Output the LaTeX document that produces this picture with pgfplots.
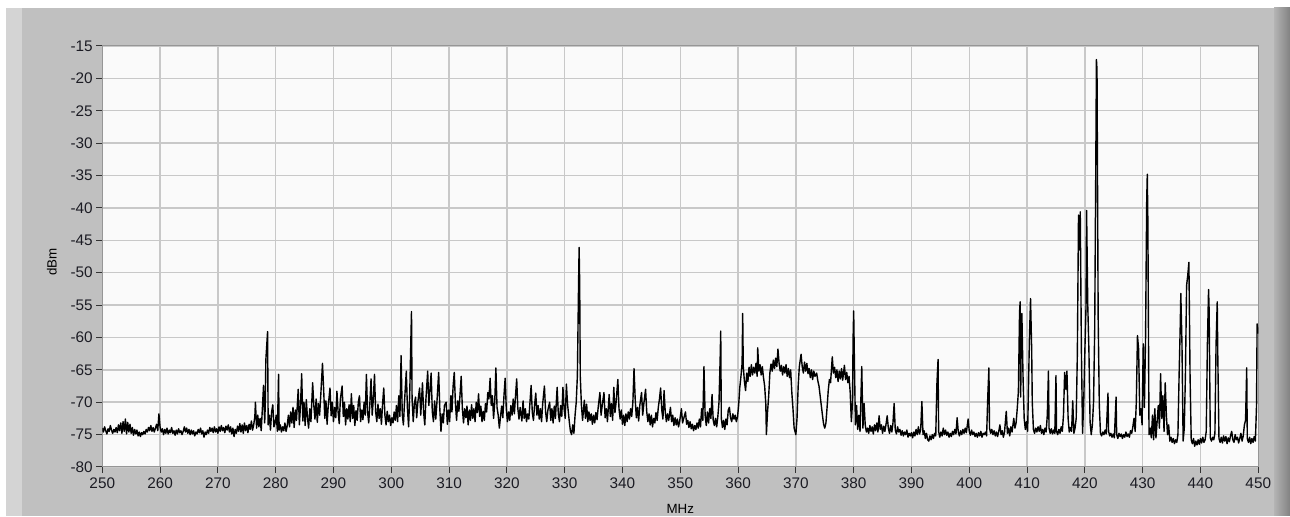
\documentclass[border=0pt]{standalone}
\usepackage{pgfplots}
\pgfplotsset{compat=1.18}
\usepackage{fontspec}
\setmainfont{Liberation Sans}
\definecolor{panel}{RGB}{192,192,192}
\definecolor{strip}{RGB}{212,212,212}
\definecolor{plotbg}{RGB}{250,250,250}
\definecolor{gridc}{RGB}{200,200,200}
\definecolor{framec}{RGB}{150,150,150}
\definecolor{labc}{RGB}{28,28,36}
\begin{document}
\begin{tikzpicture}
% 1 px of the reference = 0.75pt
\useasboundingbox (0,0) rectangle (967.5pt,387.75pt);
\fill[white] (0,0) rectangle (967.5pt,387.75pt);
\fill[panel] (4.5pt,1pt) rectangle (967.5pt,381.75pt);
\fill[strip] (4.5pt,1pt) rectangle (16.5pt,381.75pt);
\shade[left color={rgb,255:red,180;green,180;blue,180},right color={rgb,255:red,130;green,130;blue,130}]
  (955.5pt,1pt) rectangle (967.5pt,381.75pt);
\begin{axis}[
	at={(76.7pt,37.5pt)}, anchor=south west,
	scale only axis,
	width=867pt, height=315.75pt,
	xmin=250, xmax=450, ymin=-80, ymax=-15,
	xtick={250,260,...,450},
	ytick={-80,-75,...,-15},
	/pgf/number format/assume math mode=true,
	/pgf/number format/1000 sep={},
	tick label style={font=\fontsize{11.5}{13}\selectfont, text=labc},
	label style={font=\fontsize{11}{13}\selectfont, text=labc},
	yticklabel style={inner sep=2.5pt},
	tick align=outside, tick pos=left,
	major tick length=4.5pt,
	every tick/.style={black!80, line width=0.75pt},
	grid=major,
	grid style={gridc, line width=1.1pt},
	axis line style={framec, line width=0.75pt},
	axis background/.style={fill=plotbg},
	xlabel={MHz}, ylabel={dBm},
	every axis x label/.style={at={(axis description cs:0.5,-0.1)}, anchor=center},
	every axis y label/.style={at={(axis description cs:-0.0435,0.487)}, rotate=90, anchor=center},
]
\addplot[black, line width=1.05pt, line join=round, mark=none] coordinates {
(250.0,-74.0) (250.2,-74.6) (250.4,-73.8) (250.6,-74.4) (250.8,-74.9) (251.0,-74.1) (251.2,-74.5) (251.4,-73.6)
(251.6,-74.3) (251.8,-74.8) (252.0,-74.2) (252.2,-74.6) (252.4,-73.9) (252.6,-74.7) (252.8,-73.5) (253.0,-74.4)
(253.2,-73.2) (253.4,-74.8) (253.6,-73.0) (253.8,-74.5) (254.0,-72.6) (254.2,-74.9) (254.4,-73.1) (254.6,-74.6)
(254.8,-73.4) (255.0,-74.8) (255.2,-73.9) (255.4,-75.1) (255.6,-74.2) (255.8,-74.9) (256.0,-74.3) (256.2,-75.2)
(256.4,-74.6) (256.6,-75.3) (256.8,-74.7) (257.0,-75.0) (257.2,-74.5) (257.4,-74.9) (257.6,-74.2) (257.8,-74.6)
(258.0,-73.9) (258.2,-74.4) (258.4,-73.6) (258.6,-74.5) (258.8,-73.9) (259.0,-74.6) (259.2,-74.0) (259.4,-73.4)
(259.6,-74.4) (259.8,-71.8) (260.0,-73.8) (260.2,-74.6) (260.4,-74.1) (260.6,-75.0) (260.8,-74.2) (261.0,-74.8)
(261.2,-74.0) (261.4,-74.9) (261.6,-74.3) (261.8,-74.7) (262.0,-73.9) (262.2,-74.8) (262.4,-74.4) (262.6,-75.1)
(262.8,-74.3) (263.0,-74.9) (263.2,-74.1) (263.4,-74.7) (263.6,-74.4) (263.8,-75.0) (264.0,-74.5) (264.2,-73.8)
(264.4,-74.6) (264.6,-74.0) (264.8,-74.8) (265.0,-74.2) (265.2,-75.0) (265.4,-74.3) (265.6,-74.9) (265.8,-74.4)
(266.0,-75.2) (266.2,-74.6) (266.4,-74.9) (266.6,-74.2) (266.8,-74.7) (267.0,-74.0) (267.2,-74.9) (267.4,-74.4)
(267.6,-75.4) (267.8,-74.6) (268.0,-75.0) (268.2,-74.3) (268.4,-74.8) (268.6,-73.9) (268.8,-74.5) (269.0,-74.0)
(269.2,-74.7) (269.4,-73.8) (269.6,-74.6) (269.8,-74.1) (270.0,-74.8) (270.2,-73.8) (270.4,-74.5) (270.6,-73.6)
(270.8,-74.4) (271.0,-73.9) (271.2,-74.7) (271.4,-73.7) (271.6,-74.3) (271.8,-73.5) (272.0,-74.6) (272.2,-73.8)
(272.4,-74.9) (272.6,-74.0) (272.8,-75.3) (273.0,-74.2) (273.2,-74.8) (273.4,-73.7) (273.6,-74.5) (273.8,-73.3)
(274.0,-74.6) (274.2,-73.5) (274.4,-74.8) (274.6,-73.2) (274.8,-74.4) (275.0,-73.6) (275.2,-74.7) (275.4,-73.4)
(275.6,-74.2) (275.8,-72.9) (276.0,-74.3) (276.2,-73.5) (276.4,-72.2) (276.5,-70.0) (276.7,-74.0) (276.9,-72.0)
(277.1,-73.8) (277.3,-72.5) (277.5,-74.4) (277.7,-71.0) (277.9,-67.4) (278.1,-73.2) (278.2,-70.5) (278.3,-63.5)
(278.6,-59.1) (278.7,-73.5) (278.9,-72.0) (279.1,-74.3) (279.3,-71.5) (279.5,-70.4) (279.7,-73.8) (279.9,-73.2)
(280.1,-72.0) (280.3,-74.5) (280.5,-65.7) (280.6,-74.3) (280.8,-73.5) (281.0,-74.6) (281.2,-73.8) (281.4,-74.4)
(281.6,-73.2) (281.8,-74.5) (282.0,-73.6) (282.2,-72.0) (282.4,-73.8) (282.6,-71.5) (282.8,-73.2) (283.0,-70.8)
(283.2,-73.9) (283.4,-71.2) (283.6,-72.8) (283.9,-68.0) (284.1,-73.5) (284.3,-70.4) (284.5,-65.6) (284.7,-72.9)
(284.9,-70.0) (285.1,-73.6) (285.3,-69.6) (285.5,-72.4) (285.7,-74.0) (285.9,-71.0) (286.1,-73.0) (286.4,-67.0)
(286.6,-70.5) (286.8,-72.6) (287.0,-69.5) (287.2,-73.1) (287.4,-70.2) (287.6,-72.0) (287.8,-69.0) (288.1,-64.0)
(288.3,-68.0) (288.5,-72.5) (288.7,-69.8) (288.9,-73.4) (289.1,-70.5) (289.4,-67.8) (289.6,-72.1) (289.8,-70.0)
(290.0,-73.0) (290.2,-70.8) (290.4,-72.4) (290.6,-68.3) (290.8,-71.5) (291.0,-73.3) (291.2,-69.5) (291.5,-67.5)
(291.7,-72.2) (291.9,-70.0) (292.1,-73.5) (292.3,-71.0) (292.5,-72.6) (292.7,-70.4) (292.9,-73.0) (293.1,-68.7)
(293.3,-72.5) (293.5,-70.5) (293.7,-73.6) (293.9,-71.3) (294.1,-72.8) (294.3,-70.0) (294.5,-69.0) (294.7,-73.0)
(294.9,-71.2) (295.1,-72.7) (295.3,-70.0) (295.5,-72.0) (295.7,-65.7) (295.9,-71.5) (296.1,-73.2) (296.3,-70.2)
(296.5,-66.4) (296.7,-72.0) (296.9,-69.5) (297.1,-65.7) (297.3,-71.5) (297.5,-73.0) (297.7,-70.3) (297.9,-72.5)
(298.1,-71.0) (298.3,-73.4) (298.5,-70.2) (298.7,-67.8) (298.9,-72.0) (299.1,-73.5) (299.3,-71.4) (299.5,-73.0)
(299.7,-72.0) (299.9,-73.6) (300.1,-72.4) (300.3,-73.2) (300.5,-71.5) (300.7,-72.8) (300.9,-70.5) (301.1,-73.0)
(301.3,-69.0) (301.5,-72.2) (301.7,-62.8) (301.9,-71.8) (302.1,-73.5) (302.3,-69.8) (302.6,-65.2) (302.8,-71.0)
(303.0,-73.8) (303.2,-68.5) (303.4,-60.0) (303.5,-56.0) (303.6,-69.5) (303.8,-73.0) (304.0,-70.2) (304.2,-69.2)
(304.4,-72.4) (304.6,-70.0) (304.9,-67.8) (305.1,-72.0) (305.4,-67.0) (305.6,-71.6) (305.8,-73.5) (306.0,-69.5)
(306.3,-65.2) (306.5,-70.5) (306.7,-68.0) (306.9,-65.5) (307.1,-71.5) (307.3,-73.0) (307.5,-69.8) (307.7,-72.6)
(307.9,-70.0) (308.2,-65.4) (308.4,-71.0) (308.6,-74.5) (308.8,-71.8) (309.0,-73.2) (309.2,-70.5) (309.5,-70.0)
(309.7,-73.4) (309.9,-71.2) (310.1,-73.0) (310.3,-69.0) (310.5,-71.5) (310.7,-67.5) (310.9,-65.4) (311.1,-70.2)
(311.3,-72.8) (311.5,-69.8) (311.7,-71.4) (311.9,-68.8) (312.1,-66.0) (312.3,-71.0) (312.5,-73.2) (312.7,-71.0)
(312.9,-72.4) (313.1,-70.6) (313.3,-73.5) (313.5,-71.2) (313.7,-72.8) (313.9,-70.4) (314.1,-72.5) (314.3,-71.0)
(314.5,-73.0) (314.7,-70.0) (314.9,-71.6) (315.1,-68.7) (315.3,-72.2) (315.5,-70.6) (315.7,-73.0) (315.9,-71.4)
(316.1,-72.8) (316.3,-70.2) (316.5,-71.5) (316.7,-68.5) (316.9,-69.5) (317.1,-66.3) (317.3,-70.5) (317.5,-69.0)
(317.7,-72.5) (317.9,-70.0) (318.1,-64.7) (318.3,-70.8) (318.5,-72.0) (318.7,-74.0) (318.9,-72.2) (319.1,-70.6)
(319.3,-72.4) (319.5,-69.0) (319.7,-66.3) (319.9,-71.0) (320.1,-73.0) (320.3,-71.5) (320.5,-72.8) (320.7,-70.5)
(320.9,-72.0) (321.1,-69.5) (321.3,-71.8) (321.5,-69.0) (321.7,-66.4) (321.9,-71.0) (322.1,-72.6) (322.3,-70.8)
(322.6,-72.9) (322.8,-69.8) (323.0,-72.5) (323.2,-71.0) (323.4,-73.0) (323.6,-71.8) (323.8,-72.6) (324.0,-70.0)
(324.2,-67.4) (324.4,-71.6) (324.6,-72.8) (324.8,-70.4) (325.0,-68.6) (325.2,-72.0) (325.4,-70.5) (325.6,-72.6)
(325.8,-71.0) (326.0,-73.0) (326.2,-70.2) (326.5,-67.5) (326.7,-71.5) (326.9,-73.0) (327.1,-71.2) (327.4,-70.0)
(327.6,-72.8) (327.8,-71.0) (328.0,-73.2) (328.2,-70.6) (328.4,-72.5) (328.7,-67.7) (328.9,-71.8) (329.1,-73.0)
(329.3,-70.5) (329.5,-72.2) (329.7,-67.7) (329.9,-71.0) (330.1,-72.5) (330.3,-67.2) (330.5,-70.3) (330.8,-73.0)
(331.0,-74.5) (331.2,-75.0) (331.4,-73.5) (331.6,-74.8) (331.8,-72.0) (332.0,-70.0) (332.2,-65.9) (332.4,-52.0)
(332.5,-46.1) (332.6,-51.7) (332.7,-66.0) (332.9,-70.5) (333.1,-72.8) (333.4,-69.7) (333.6,-72.5) (333.8,-70.3)
(334.0,-73.0) (334.2,-71.5) (334.4,-72.8) (334.6,-71.8) (334.8,-73.4) (335.0,-72.0) (335.2,-73.2) (335.4,-71.6)
(335.6,-72.7) (335.8,-70.8) (336.1,-68.5) (336.3,-72.0) (336.5,-70.5) (336.8,-68.5) (337.0,-72.4) (337.2,-71.0)
(337.4,-73.0) (337.7,-68.8) (337.9,-72.2) (338.1,-70.2) (338.3,-72.8) (338.5,-67.7) (338.7,-71.6) (338.9,-70.0)
(339.2,-66.5) (339.4,-71.0) (339.6,-72.6) (339.8,-71.2) (340.0,-73.4) (340.2,-72.0) (340.4,-73.6) (340.6,-71.8)
(340.8,-73.0) (341.0,-71.5) (341.2,-72.6) (341.4,-71.0) (341.6,-72.2) (341.8,-70.0) (342.0,-64.8) (342.2,-69.5)
(342.4,-72.4) (342.6,-70.8) (342.8,-72.9) (343.0,-70.5) (343.3,-68.5) (343.5,-72.0) (343.7,-70.2) (344.0,-68.0)
(344.2,-71.5) (344.4,-73.0) (344.6,-71.8) (344.8,-73.5) (345.0,-72.0) (345.2,-73.8) (345.4,-72.5) (345.6,-73.2)
(345.8,-71.6) (346.0,-72.8) (346.2,-70.8) (346.4,-69.5) (346.6,-67.8) (346.8,-71.2) (347.0,-72.6) (347.2,-68.2)
(347.4,-71.5) (347.6,-73.0) (347.8,-71.8) (348.0,-72.8) (348.3,-70.8) (348.5,-73.0) (348.7,-72.0) (348.9,-73.6)
(349.1,-72.4) (349.3,-73.5) (349.5,-72.6) (349.7,-73.8) (349.9,-72.9) (350.2,-71.0) (350.4,-73.2) (350.6,-72.5)
(350.9,-71.5) (351.1,-73.4) (351.3,-72.8) (351.5,-73.9) (351.7,-73.0) (351.9,-74.1) (352.1,-73.4) (352.3,-74.4)
(352.5,-73.6) (352.7,-74.2) (352.9,-73.2) (353.1,-74.0) (353.3,-72.6) (353.5,-73.8) (353.7,-71.0) (353.9,-72.8)
(354.1,-64.5) (354.3,-72.0) (354.5,-73.6) (354.7,-71.5) (354.9,-73.2) (355.1,-71.0) (355.3,-72.5) (355.5,-68.8)
(355.7,-72.8) (355.9,-73.6) (356.1,-72.5) (356.3,-73.8) (356.5,-72.2) (356.7,-70.0) (356.9,-63.3) (357.0,-59.0)
(357.1,-72.5) (357.3,-73.9) (357.5,-72.8) (357.7,-74.2) (357.9,-72.6) (358.1,-73.5) (358.3,-71.2) (358.5,-70.8)
(358.7,-72.4) (358.9,-73.0) (359.1,-71.8) (359.3,-72.6) (359.5,-72.0) (359.7,-73.0) (359.9,-72.3) (360.1,-70.5)
(360.3,-67.7) (360.5,-66.0) (360.7,-64.0) (360.8,-56.3) (360.9,-64.5) (361.1,-66.8) (361.3,-68.2) (361.5,-65.5)
(361.7,-66.8) (361.9,-64.6) (362.1,-66.0) (362.3,-64.2) (362.5,-65.8) (362.7,-64.6) (362.9,-65.5) (363.1,-64.0)
(363.3,-66.0) (363.4,-61.6) (363.6,-65.2) (363.8,-64.2) (364.0,-65.8) (364.2,-64.5) (364.4,-66.2) (364.6,-67.5)
(364.8,-70.3) (364.9,-75.0) (365.1,-71.5) (365.3,-69.0) (365.5,-65.5) (365.7,-64.1) (365.9,-65.2) (366.1,-63.5)
(366.3,-64.8) (366.5,-63.2) (366.7,-64.5) (366.9,-61.8) (367.1,-64.0) (367.3,-65.2) (367.5,-64.3) (367.7,-65.8)
(367.9,-64.5) (368.1,-65.5) (368.3,-64.2) (368.5,-66.0) (368.7,-64.8) (368.9,-66.2) (369.1,-65.0) (369.3,-68.5)
(369.5,-71.0) (369.7,-74.0) (370.0,-75.0) (370.2,-72.5) (370.4,-67.5) (370.6,-64.5) (370.9,-62.6) (371.1,-64.5)
(371.3,-65.5) (371.5,-63.8) (371.7,-65.2) (371.9,-64.0) (372.1,-65.6) (372.3,-64.8) (372.5,-66.2) (372.7,-65.0)
(372.9,-66.5) (373.1,-65.2) (373.3,-66.0) (373.6,-65.5) (373.8,-66.7) (374.0,-67.5) (374.2,-69.0) (374.4,-70.5)
(374.6,-72.0) (374.8,-73.4) (375.0,-74.0) (375.2,-73.2) (375.4,-70.8) (375.6,-68.2) (375.8,-66.5) (376.0,-67.0)
(376.3,-63.0) (376.5,-65.5) (376.7,-64.6) (376.9,-66.2) (377.1,-65.0) (377.3,-66.8) (377.5,-65.2) (377.7,-66.4)
(377.9,-64.8) (378.1,-66.6) (378.4,-64.3) (378.6,-66.5) (378.8,-65.4) (379.0,-67.0) (379.2,-66.0) (379.4,-68.5)
(379.6,-73.0) (379.8,-70.0) (379.9,-60.2) (380.0,-55.9) (380.1,-62.0) (380.3,-73.5) (380.5,-70.5) (380.7,-74.2)
(380.9,-72.0) (381.1,-74.5) (381.4,-64.5) (381.6,-74.0) (381.8,-70.2) (382.0,-73.5) (382.2,-74.6) (382.4,-74.0)
(382.6,-74.8) (382.8,-73.6) (383.0,-74.5) (383.2,-73.8) (383.4,-74.9) (383.6,-73.5) (383.8,-74.4) (384.0,-73.2)
(384.2,-74.6) (384.4,-72.1) (384.6,-74.2) (384.8,-73.5) (385.0,-74.8) (385.2,-73.7) (385.4,-74.5) (385.6,-73.4)
(385.8,-72.1) (386.0,-74.0) (386.2,-74.8) (386.4,-73.6) (386.6,-74.6) (386.8,-73.2) (387.0,-70.2) (387.2,-74.3)
(387.4,-74.9) (387.6,-73.8) (387.8,-74.6) (388.0,-74.2) (388.2,-75.1) (388.4,-74.4) (388.6,-75.2) (388.8,-74.6)
(389.0,-75.0) (389.2,-74.3) (389.4,-75.4) (389.6,-74.8) (389.8,-75.2) (390.0,-74.7) (390.2,-75.5) (390.4,-74.6)
(390.6,-75.2) (390.8,-74.2) (391.0,-75.0) (391.2,-73.8) (391.4,-74.9) (391.6,-74.2) (391.8,-69.9) (392.0,-75.0)
(392.2,-74.4) (392.4,-75.6) (392.6,-74.8) (392.8,-75.8) (393.0,-76.0) (393.2,-75.2) (393.4,-75.8) (393.6,-75.0)
(393.8,-75.6) (394.0,-74.8) (394.2,-75.2) (394.4,-67.2) (394.6,-63.4) (394.7,-74.5) (394.9,-75.4) (395.1,-74.6)
(395.3,-75.2) (395.5,-74.0) (395.7,-75.0) (395.9,-74.3) (396.1,-75.1) (396.3,-74.6) (396.5,-75.4) (396.7,-74.8)
(396.9,-75.3) (397.1,-74.5) (397.3,-75.0) (397.5,-74.2) (397.7,-74.9) (397.9,-72.4) (398.1,-74.6) (398.3,-75.2)
(398.5,-74.4) (398.7,-75.0) (398.9,-74.2) (399.1,-74.8) (399.3,-74.0) (399.5,-74.7) (399.8,-72.6) (400.0,-74.5)
(400.2,-75.1) (400.4,-74.3) (400.6,-75.0) (400.8,-74.6) (401.0,-75.3) (401.2,-74.8) (401.4,-75.4) (401.6,-74.7)
(401.8,-75.2) (402.0,-74.5) (402.2,-75.4) (402.4,-74.8) (402.6,-75.0) (402.8,-74.6) (403.0,-75.2) (403.2,-69.2)
(403.4,-64.7) (403.5,-74.0) (403.7,-74.8) (403.9,-74.2) (404.1,-75.0) (404.3,-74.4) (404.5,-75.2) (404.7,-74.6)
(404.9,-75.3) (405.1,-74.5) (405.3,-73.5) (405.5,-75.0) (405.7,-74.4) (405.9,-75.4) (406.1,-74.6) (406.4,-71.4)
(406.6,-74.8) (406.8,-74.0) (407.0,-75.2) (407.2,-73.8) (407.4,-74.6) (407.7,-72.5) (407.9,-74.0) (408.1,-73.2)
(408.3,-71.0) (408.5,-68.3) (408.7,-56.1) (408.8,-54.5) (408.9,-69.2) (409.0,-57.0) (409.1,-56.3) (409.3,-66.0)
(409.5,-72.5) (409.7,-74.2) (409.9,-73.0) (410.1,-74.5) (410.4,-60.5) (410.6,-54.0) (410.8,-62.0) (410.9,-70.0)
(411.1,-74.2) (411.3,-74.8) (411.5,-74.0) (411.7,-74.6) (411.9,-73.8) (412.1,-74.5) (412.3,-73.6) (412.5,-74.8)
(412.7,-74.2) (412.9,-75.0) (413.1,-74.0) (413.3,-74.6) (413.5,-72.0) (413.7,-65.2) (413.8,-74.0) (414.0,-74.8)
(414.2,-74.1) (414.4,-74.9) (414.6,-74.3) (414.8,-74.8) (415.0,-65.9) (415.1,-74.5) (415.3,-75.0) (415.5,-74.2)
(415.7,-74.8) (415.9,-73.8) (416.1,-74.5) (416.3,-72.0) (416.5,-65.4) (416.7,-68.0) (416.9,-65.2) (417.1,-72.5)
(417.3,-74.6) (417.5,-73.9) (417.7,-74.5) (417.9,-69.8) (418.1,-74.8) (418.3,-74.0) (418.5,-72.5) (418.7,-62.5)
(418.9,-41.1) (419.1,-46.5) (419.2,-40.6) (419.4,-62.0) (419.6,-74.8) (419.8,-70.0) (420.0,-62.0) (420.2,-55.3)
(420.3,-40.4) (420.5,-55.0) (420.7,-62.0) (420.9,-73.0) (421.1,-75.0) (421.3,-73.5) (421.5,-70.0) (421.7,-58.9)
(421.9,-32.1) (422.0,-17.1) (422.1,-18.7) (422.3,-56.9) (422.5,-70.5) (422.7,-74.8) (422.9,-75.2) (423.1,-74.6)
(423.3,-75.0) (423.5,-74.3) (423.7,-74.9) (424.0,-68.6) (424.1,-74.5) (424.3,-75.2) (424.5,-74.8) (424.7,-75.4)
(424.9,-74.9) (425.1,-75.5) (425.4,-69.2) (425.5,-75.0) (425.7,-75.6) (425.9,-74.8) (426.1,-75.3) (426.3,-74.9)
(426.5,-75.6) (426.7,-75.0) (426.9,-75.4) (427.1,-74.6) (427.3,-75.3) (427.5,-74.9) (427.7,-75.4) (427.9,-74.4)
(428.1,-74.8) (428.3,-73.8) (428.5,-72.5) (428.7,-74.5) (428.9,-70.0) (429.1,-59.7) (429.3,-61.8) (429.5,-72.0)
(429.7,-71.0) (429.9,-73.5) (430.1,-61.0) (430.3,-70.8) (430.5,-60.0) (430.7,-38.7) (430.8,-34.8) (430.9,-42.2)
(431.1,-75.0) (431.3,-74.0) (431.5,-75.5) (431.7,-72.0) (431.9,-75.8) (432.1,-71.0) (432.3,-75.5) (432.5,-73.0)
(432.7,-70.5) (432.9,-74.0) (433.1,-65.6) (433.3,-72.5) (433.5,-69.0) (433.7,-74.5) (433.9,-67.0) (434.1,-72.0)
(434.3,-75.0) (434.5,-73.5) (434.7,-76.0) (434.9,-75.4) (435.1,-76.2) (435.3,-75.6) (435.5,-76.4) (435.7,-75.8)
(435.9,-76.2) (436.1,-75.0) (436.3,-66.0) (436.5,-58.2) (436.6,-53.2) (436.8,-61.0) (437.0,-76.0) (437.2,-74.0)
(437.4,-65.6) (437.6,-52.0) (437.8,-50.4) (438.0,-48.4) (438.2,-66.0) (438.4,-75.8) (438.6,-76.4) (438.8,-75.6)
(439.0,-76.8) (439.2,-76.0) (439.4,-76.6) (439.6,-75.8) (439.8,-76.5) (440.0,-75.6) (440.2,-76.3) (440.4,-75.4)
(440.6,-76.2) (440.8,-75.8) (441.0,-74.5) (441.2,-61.0) (441.4,-52.6) (441.5,-55.8) (441.7,-75.5) (441.9,-76.0)
(442.1,-75.4) (442.3,-75.8) (442.5,-74.8) (442.7,-61.0) (442.9,-54.5) (443.0,-63.0) (443.2,-75.6) (443.4,-76.2)
(443.6,-75.4) (443.8,-76.3) (444.0,-75.2) (444.2,-76.0) (444.4,-75.3) (444.6,-76.4) (444.8,-75.5) (445.0,-76.1)
(445.2,-75.2) (445.4,-74.5) (445.6,-75.8) (445.8,-76.2) (446.0,-75.0) (446.2,-75.8) (446.4,-75.4) (446.6,-76.3)
(446.8,-75.6) (447.0,-74.8) (447.2,-76.0) (447.4,-75.2) (447.6,-73.5) (447.8,-72.8) (448.0,-64.7) (448.1,-75.6)
(448.3,-76.2) (448.5,-75.4) (448.7,-76.4) (448.9,-75.6) (449.1,-76.2) (449.3,-75.3) (449.5,-76.0) (449.7,-70.5)
(449.8,-57.9) (450.0,-59.4)
};
\end{axis}
\end{tikzpicture}
\end{document}
